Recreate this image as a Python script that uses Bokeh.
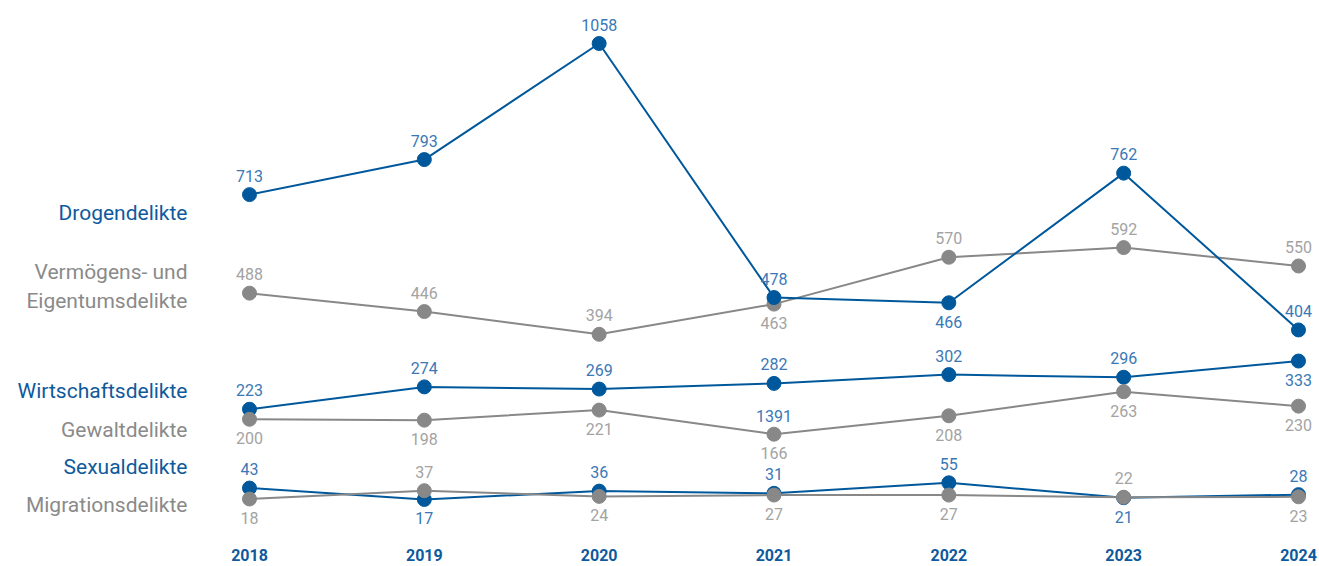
from bokeh.plotting import figure
from bokeh.models import ColumnDataSource, Range1d, Label
from bokeh.core.properties import value
from bokeh.embed import file_html
from bokeh.resources import INLINE

years = [2018, 2019, 2020, 2021, 2022, 2023, 2024]

drogen = [713, 793, 1058, 478, 466, 762, 404]
vermoegen = [488, 446, 394, 463, 570, 592, 550]
wirtschaft = [223, 274, 269, 282, 302, 296, 333]
gewalt = [200, 198, 221, 166, 208, 263, 230]
sexual = [43, 17, 36, 31, 55, 21, 28]
migration = [18, 37, 24, 27, 27, 22, 23]

# label placement: "a" = above the point, "b" = below
drogen_pos = ["a", "a", "a", "a", "b", "a", "a"]
vermoegen_pos = ["a", "a", "a", "b", "a", "a", "a"]
wirtschaft_pos = ["a", "a", "a", "a", "a", "a", "b"]
gewalt_pos = ["b", "b", "b", "b", "b", "b", "b"]
sexual_pos = ["a", "b", "a", "a", "a", "b", "a"]
migration_pos = ["b", "a", "b", "b", "b", "a", "b"]

# stray label printed in the source chart (above Gewaltdelikte 2021, in blue)
extra_label_year = [2021]
extra_label_value = [166]
extra_label_text = ["1391"]

series_names = ["Drogendelikte", "Vermögens- und\nEigentumsdelikte", "Wirtschaftsdelikte",
                "Gewaltdelikte", "Sexualdelikte", "Migrationsdelikte"]

BLUE = "#00589c"
BLUE_TXT = "#3a78b6"
BLUE_NAME = "#0e5a9c"
GRAY = "#888888"
GRAY_TXT = "#a3a3a3"
GRAY_NAME = "#8a8a8a"
FONT = "Roboto"

W, H = 1319, 566
p = figure(width=W, height=H, output_backend="svg", toolbar_location=None,
           x_range=Range1d(2016.5758, 2024.1202), y_range=Range1d(-136.1, 1156.2),
           min_border=0, min_border_left=0, min_border_right=0,
           min_border_top=0, min_border_bottom=0)
p.axis.visible = False
p.grid.visible = False
p.outline_line_color = None
p.background_fill_color = "white"
p.border_fill_color = "white"

series = [
    (sexual, sexual_pos, BLUE, BLUE_TXT),
    (migration, migration_pos, GRAY, GRAY_TXT),
    (wirtschaft, wirtschaft_pos, BLUE, BLUE_TXT),
    (gewalt, gewalt_pos, GRAY, GRAY_TXT),
    (vermoegen, vermoegen_pos, GRAY, GRAY_TXT),
    (drogen, drogen_pos, BLUE, BLUE_TXT),
]

for vals, pos, col, tcol in series:
    src = ColumnDataSource(dict(x=years, y=vals))
    p.line("x", "y", source=src, line_color=col, line_width=2)
    p.scatter("x", "y", source=src, size=14, fill_color=col, line_color=col)

for vals, pos, col, tcol in series:
    src = ColumnDataSource(dict(x=years, y=vals, t=[str(v) for v in vals],
                                off=[-19 if s == "a" else 19 for s in pos]))
    p.text("x", "y", text="t", source=src, y_offset="off", text_align="center",
           text_baseline="middle", text_color=tcol, text_font=value(FONT),
           text_font_size="16px")

src_extra = ColumnDataSource(dict(x=extra_label_year, y=extra_label_value, t=extra_label_text))
p.text("x", "y", text="t", source=src_extra, y_offset=-18, text_align="center",
       text_baseline="middle", text_color=BLUE_TXT, text_font=value(FONT),
       text_font_size="16px")

# year labels along the bottom
src_years = ColumnDataSource(dict(x=years, y=[p.y_range.start] * len(years),
                                  t=[str(y) for y in years]))
p.text("x", "y", text="t", source=src_years, text_align="center", text_baseline="middle",
       y_offset=-12, text_color=BLUE_NAME, text_font=value(FONT), text_font_size="16px",
       text_font_style="bold")

# series names on the left (page positions measured from the top)
name_layout = [
    (series_names[0], 212, BLUE_NAME),
    ("Vermögens- und", 271, GRAY_NAME),
    ("Eigentumsdelikte", 300, GRAY_NAME),
    (series_names[2], 390, BLUE_NAME),
    (series_names[3], 429, GRAY_NAME),
    (series_names[4], 466, BLUE_NAME),
    (series_names[5], 504, GRAY_NAME),
]
for txt, ypage, col in name_layout:
    p.add_layout(Label(x=187, y=H - ypage, x_units="screen", y_units="screen",
                       text=txt, text_align="right", text_baseline="middle",
                       text_color=col, text_font=FONT, text_font_size="21px"))

open("out.html", "w").write(file_html(p, INLINE))
